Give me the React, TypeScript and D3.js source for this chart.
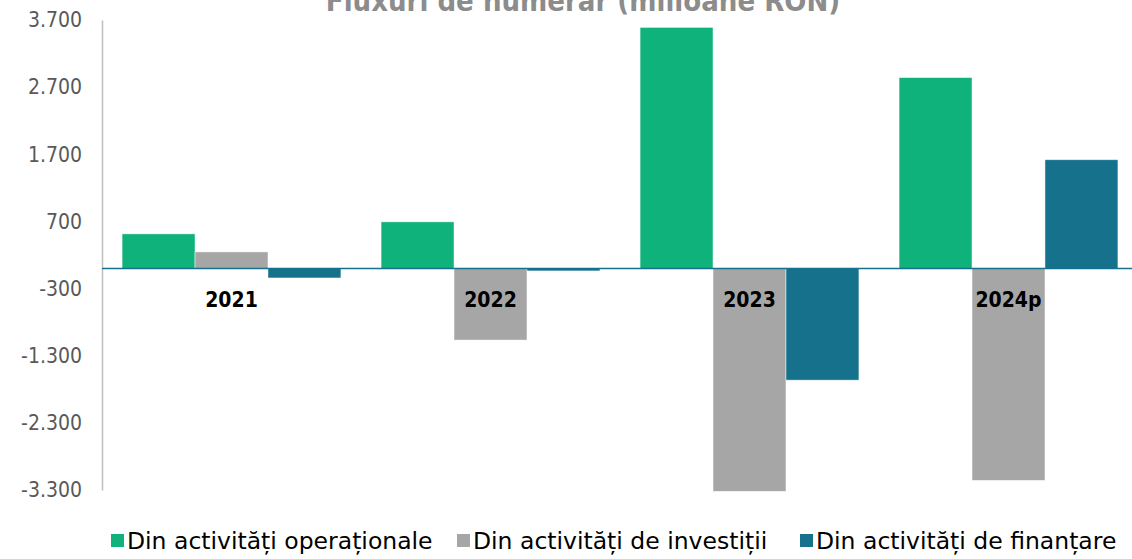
import React, { useEffect, useRef } from 'react';
import * as d3 from 'd3';

const years = ['2021', '2022', '2023', '2024p'];
const seriesNames = [
  'Din activități operaționale',
  'Din activități de investiții',
  'Din activități de finanțare',
];
const operational = [515, 694, 3590, 2843];
const investing = [246, -1067, -3320, -3157];
const financing = [-142, -37, -1664, 1619];
const yTicks = [3700, 2700, 1700, 700, -300, -1300, -2300, -3300];
const colors = ['#10B27C', '#A6A6A6', '#15718C'];

const WIDTH = 1132;
const HEIGHT = 559;
const FONT = '"DejaVu Sans Condensed", "DejaVu Sans", sans-serif';

export default function App() {
  const ref = useRef<SVGSVGElement>(null);

  useEffect(() => {
    const svg = d3.select(ref.current);
    svg.selectAll('*').remove();

    const values = [operational, investing, financing];
    const rows = years.map((yr, i) => ({
      year: yr,
      vals: values.map((s, k) => ({ key: k, value: s[i] })),
    }));

    const left = 102;
    const right = 1138;
    const y = d3.scaleLinear().domain([-3300, 3700]).range([490, 20]);
    const x0 = d3
      .scaleBand()
      .domain(years)
      .range([left, right])
      .paddingInner(0.155)
      .paddingOuter(0.0775);
    const x1 = d3
      .scaleBand<number>()
      .domain([0, 1, 2])
      .range([0, x0.bandwidth()]);

    const locale = d3.formatLocale({
      decimal: ',',
      thousands: '.',
      grouping: [3],
      currency: ['', ''],
      minus: '-',
    });
    const fmt = locale.format(',d');

    // title, cut off at the top like in the source image
    svg
      .append('text')
      .attr('x', 583)
      .attr('y', 11)
      .attr('text-anchor', 'middle')
      .style('font-family', FONT)
      .style('font-size', '29px')
      .style('font-weight', 'bold')
      .style('fill', '#8C8C8C')
      .text('Fluxuri de numerar (milioane RON)');

    // y axis
    const yAxis = d3
      .axisLeft(y)
      .tickValues(yTicks)
      .tickSize(0)
      .tickPadding(20)
      .tickFormat((d) => fmt(d as number));
    const ga = svg.append('g').attr('transform', `translate(${left},0)`).call(yAxis);
    ga.select('.domain').attr('stroke', '#BFBFBF').attr('stroke-width', 1.5);
    ga.selectAll('text')
      .style('font-family', FONT)
      .style('font-size', '21px')
      .style('fill', '#595959');

    // bars
    const groups = svg
      .append('g')
      .selectAll('g')
      .data(rows)
      .enter()
      .append('g')
      .attr('transform', (d) => `translate(${x0(d.year)},0)`);

    groups
      .selectAll('rect')
      .data((d) => d.vals)
      .enter()
      .append('rect')
      .attr('x', (d) => x1(d.key) as number)
      .attr('width', x1.bandwidth())
      .attr('y', (d) => y(Math.max(0, d.value)))
      .attr('height', (d) => Math.abs(y(d.value) - y(0)))
      .style('fill', (d) => colors[d.key])
      .style('stroke', 'rgba(255,255,255,0.6)')
      .style('stroke-width', 0.8);

    // zero line
    svg
      .append('line')
      .attr('x1', left)
      .attr('x2', WIDTH)
      .attr('y1', y(0))
      .attr('y2', y(0))
      .style('stroke', '#15718C')
      .style('stroke-width', 1.5);

    // category labels
    svg
      .append('g')
      .selectAll('text')
      .data(years)
      .enter()
      .append('text')
      .attr('x', (d) => (x0(d) as number) + x0.bandwidth() / 2)
      .attr('y', 307)
      .attr('text-anchor', 'middle')
      .style('font-family', FONT)
      .style('font-size', '21px')
      .style('font-weight', 'bold')
      .style('fill', '#000')
      .text((d) => d);

    // legend
    const legendX = [111, 457, 800];
    const lg = svg
      .append('g')
      .selectAll('g')
      .data(seriesNames)
      .enter()
      .append('g')
      .attr('transform', (d, i) => `translate(${legendX[i]},549)`);
    lg.append('rect')
      .attr('x', 0)
      .attr('y', -15)
      .attr('width', 13)
      .attr('height', 13)
      .style('fill', (d, i) => colors[i]);
    lg.append('text')
      .attr('x', 16)
      .attr('y', 0)
      .style('font-family', '"DejaVu Sans", sans-serif')
      .style('font-size', '23.5px')
      .style('fill', '#000')
      .text((d) => d);
  }, []);

  return (
    <svg
      ref={ref}
      width={WIDTH}
      height={HEIGHT}
      style={{ position: 'absolute', left: 0, top: 0, background: '#fff' }}
    ></svg>
  );
}
